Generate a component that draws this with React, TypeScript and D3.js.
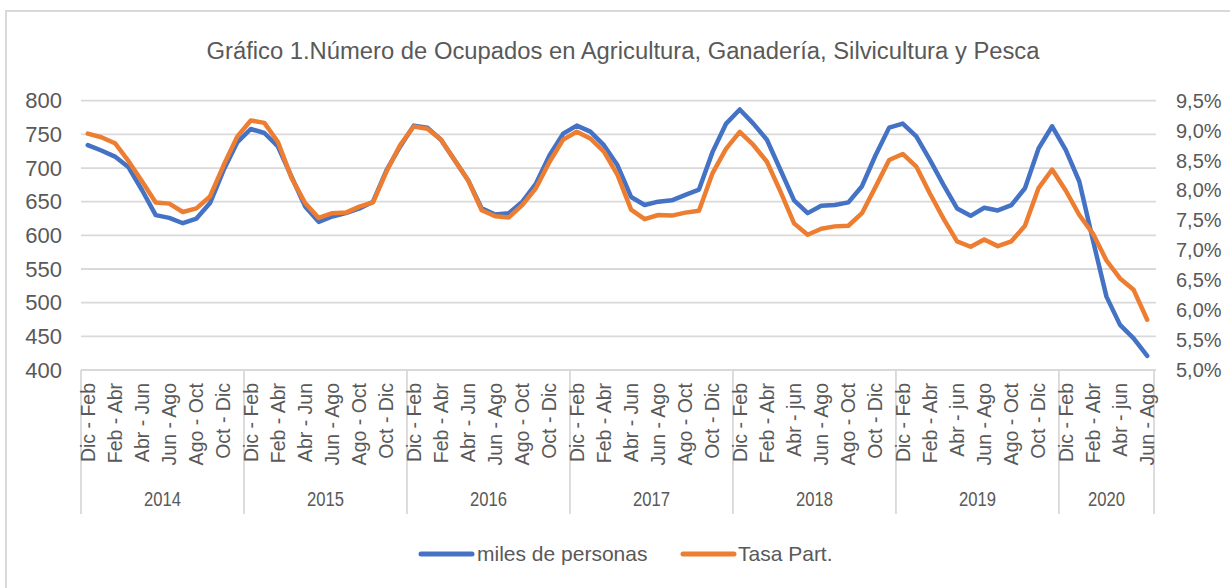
import React from 'react';
import * as d3 from 'd3';

// rolling quarters, one point per month
const years = ['2014', '2015', '2016', '2017', '2018', '2019', '2020'];
const periodsPerYear = [12, 12, 12, 12, 12, 12, 7];
const periodLabels = [
  'Dic - Feb', 'Ene - Mar', 'Feb - Abr', 'Mar - May', 'Abr - Jun', 'May - Jul',
  'Jun - Ago', 'Jul - Sep', 'Ago - Oct', 'Sep - Nov', 'Oct - Dic', 'Nov - Ene',
];
const lowerJunYears = ['2018', '2019', '2020'];

// miles de personas
const ocupados = [
  734, 726, 717, 701, 667, 630, 626, 618, 625, 648, 697, 738,
  758, 752, 732, 687, 643, 620, 628, 633, 640, 650, 697, 732,
  763, 760, 742, 712, 682, 640, 631, 633, 650, 677, 719, 751,
  763, 754, 734, 704, 657, 645, 650, 652, 660, 668, 724, 766,
  787, 766, 742, 697, 652, 633, 644, 645, 649, 673, 719, 760,
  766, 747, 712, 675, 640, 629, 641, 637, 645, 670, 729, 762,
  727, 680, 593, 509, 467, 447, 421,
];

// Tasa Part. (%)
const tasaPart = [
  8.95, 8.89, 8.79, 8.49, 8.15, 7.80, 7.78, 7.64, 7.70, 7.90, 8.42, 8.90,
  9.17, 9.13, 8.81, 8.21, 7.79, 7.54, 7.62, 7.63, 7.73, 7.80, 8.32, 8.76,
  9.07, 9.03, 8.85, 8.51, 8.17, 7.67, 7.57, 7.55, 7.76, 8.04, 8.48, 8.85,
  8.98, 8.87, 8.65, 8.26, 7.68, 7.52, 7.59, 7.58, 7.63, 7.66, 8.29, 8.70,
  8.98, 8.76, 8.48, 7.98, 7.45, 7.26, 7.36, 7.40, 7.41, 7.62, 8.06, 8.51,
  8.61, 8.40, 7.95, 7.53, 7.15, 7.06, 7.18, 7.07, 7.15, 7.41, 8.04, 8.35,
  8.00, 7.59, 7.28, 6.83, 6.53, 6.34, 5.84,
];

const leftTicks = [400, 450, 500, 550, 600, 650, 700, 750, 800];
const rightTicks = [5.0, 5.5, 6.0, 6.5, 7.0, 7.5, 8.0, 8.5, 9.0, 9.5];

const W = 1230;
const H = 588;
const textColor = '#595959';
const gridColor = '#d9d9d9';
const blue = '#4472C4';
const orange = '#ED7D31';
const font = '"Liberation Sans", Arial, sans-serif';

type Cat = { year: string; idx: number; label: string };

const cats: Cat[] = [];
years.forEach((yr, yi) => {
  for (let k = 0; k < periodsPerYear[yi]; k++) {
    let label = periodLabels[k];
    if (k === 4 && lowerJunYears.includes(yr)) label = 'Abr - jun';
    cats.push({ year: yr, idx: k, label });
  }
});

const App = () => {
  const x = d3
    .scaleBand<number>()
    .domain(d3.range(cats.length))
    .range([81, 1154]);
  const y = d3.scaleLinear().domain([400, 800]).range([370, 100.7]);
  const yR = d3.scaleLinear().domain([5, 9.5]).range([370, 100.7]);
  const cx = (i: number) => (x(i) as number) + x.bandwidth() / 2;

  const lineL = d3
    .line<number>()
    .x((_, i) => cx(i))
    .y((d) => y(d));
  const lineR = d3
    .line<number>()
    .x((_, i) => cx(i))
    .y((d) => yR(d));

  // year boundaries
  const bounds: number[] = [];
  let acc = 0;
  bounds.push(x(0) as number);
  periodsPerYear.forEach((n) => {
    acc += n;
    bounds.push(acc < cats.length ? (x(acc) as number) : x.range()[1]);
  });

  const fmtPct = (v: number) => v.toFixed(1).replace('.', ',') + '%';

  return (
    <svg
      width={W}
      height={H}
      style={{ position: 'absolute', left: 0, top: 0, background: '#fff' }}
      fontFamily={font}
    >
      <rect x={6} y={11} width={1240} height={600} fill="#fff" stroke={gridColor} strokeWidth={2} />

      <text
        x={623}
        y={59}
        textAnchor="middle"
        fontSize={23}
        fill={textColor}
        textLength={833}
        lengthAdjust="spacingAndGlyphs"
      >
        Gráfico 1.Número de Ocupados en Agricultura, Ganadería, Silvicultura y Pesca
      </text>

      {/* gridlines */}
      {leftTicks.map((t) => (
        <line key={t} x1={81} x2={1156} y1={y(t)} y2={y(t)} stroke={gridColor} strokeWidth={1.8} />
      ))}

      {/* left axis labels */}
      {leftTicks.map((t) => (
        <text key={'l' + t} x={62} y={y(t)} dy="0.35em" textAnchor="end" fontSize={22} fill={textColor}>
          {t}
        </text>
      ))}
      {/* right axis labels */}
      {rightTicks.map((t) => (
        <text key={'r' + t} x={1176} y={yR(t)} dy="0.35em" textAnchor="start" fontSize={20} fill={textColor}>
          {fmtPct(t)}
        </text>
      ))}

      {/* year separators */}
      {bounds.map((b, i) => (
        <line key={'b' + i} x1={b} x2={b} y1={370} y2={514} stroke={gridColor} strokeWidth={1.8} />
      ))}

      {/* period labels, every second one */}
      {cats.map((c, i) =>
        c.idx % 2 === 0 ? (
          <text
            key={'c' + i}
            transform={`translate(${cx(i)},383) rotate(-90)`}
            dy="0.35em"
            textAnchor="end"
            fontSize={19.5}
            fill={textColor}
          >
            {c.label}
          </text>
        ) : null
      )}

      {/* year labels */}
      {years.map((yr, i) => (
        <text
          key={yr}
          x={(bounds[i] + bounds[i + 1]) / 2}
          y={506}
          textAnchor="middle"
          fontSize={20}
          fill={textColor}
          textLength={37}
          lengthAdjust="spacingAndGlyphs"
        >
          {yr}
        </text>
      ))}

      <path d={lineL(ocupados) || ''} fill="none" stroke={blue} strokeWidth={4.5} strokeLinejoin="round" strokeLinecap="round" />
      <path d={lineR(tasaPart) || ''} fill="none" stroke={orange} strokeWidth={4.5} strokeLinejoin="round" strokeLinecap="round" />

      {/* legend */}
      <line x1={421} x2={472} y1={554} y2={554} stroke={blue} strokeWidth={5} strokeLinecap="round" />
      <text x={477} y={554} dy="0.35em" fontSize={21} fill={textColor}>
        miles de personas
      </text>
      <line x1={683} x2={734} y1={554} y2={554} stroke={orange} strokeWidth={5} strokeLinecap="round" />
      <text x={738} y={554} dy="0.35em" fontSize={21} fill={textColor}>
        Tasa Part.
      </text>
    </svg>
  );
};

export default App;
